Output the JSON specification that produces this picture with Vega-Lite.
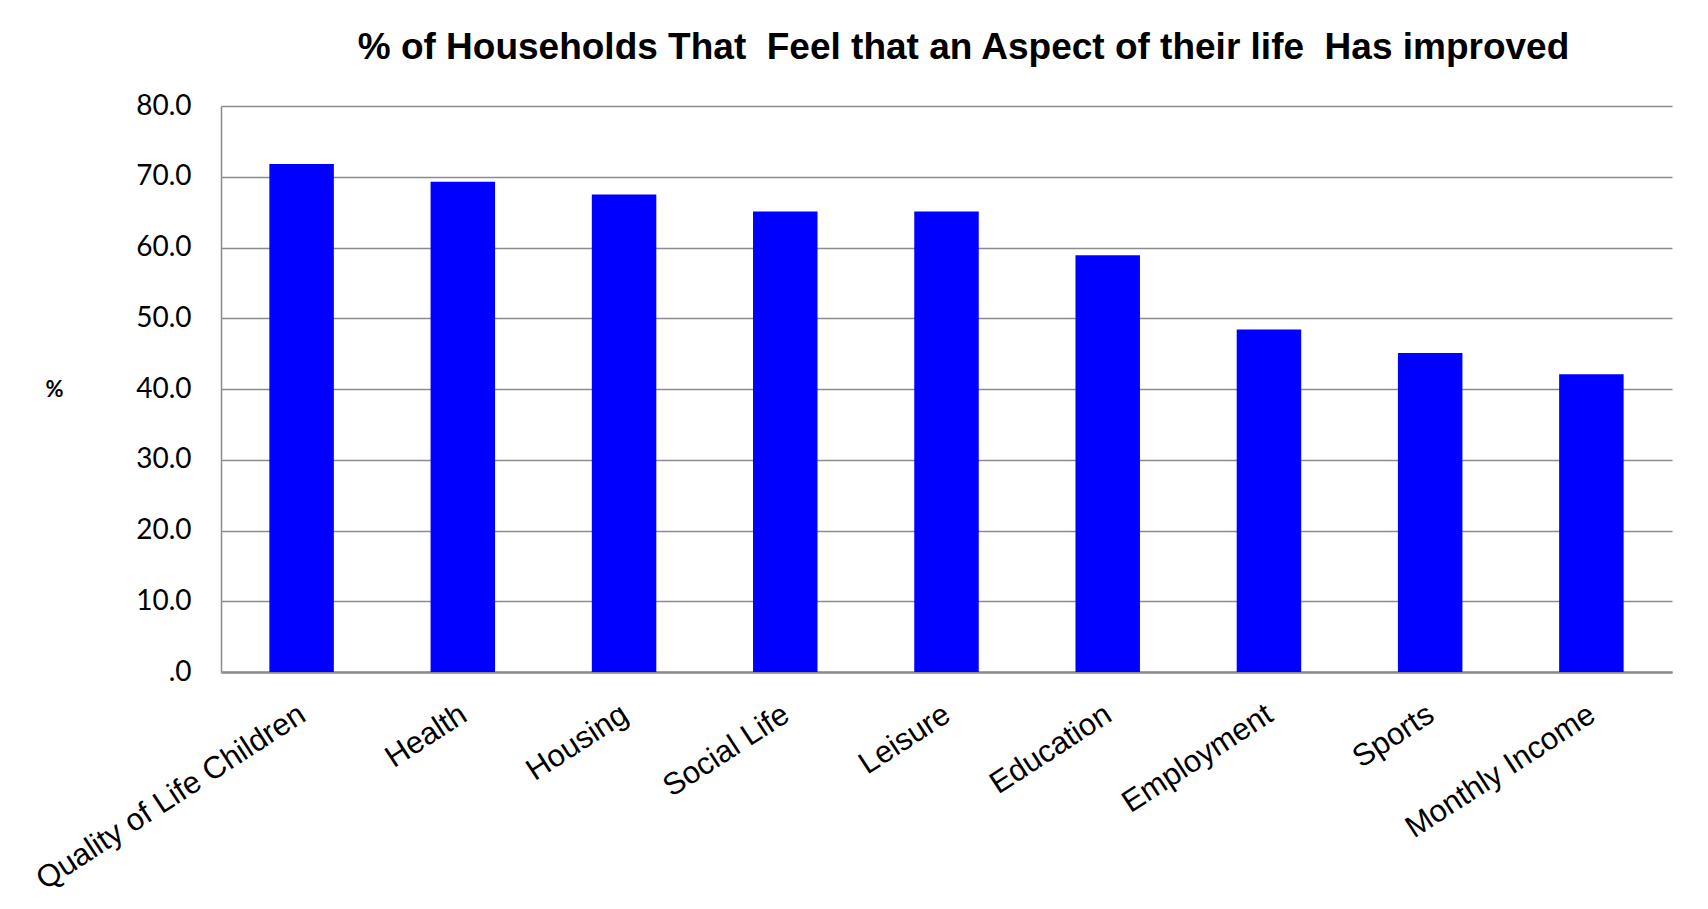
{
  "$schema": "https://vega.github.io/schema/vega-lite/v6.json",
  "width": 1451,
  "height": 566,
  "autosize": {"type": "none"},
  "padding": {"left": 221, "top": 106, "right": 36, "bottom": 237},
  "background": "white",
  "title": {
    "text": "% of Households That \u00a0Feel that an Aspect of their life \u00a0Has improved",
    "font": "Liberation Sans",
    "fontSize": 37,
    "fontWeight": "bold",
    "color": "black",
    "anchor": "middle",
    "dx": 17,
    "offset": 25
  },
  "data": {
    "values": [
      {"aspect": "Quality of Life Children", "pct": 71.8},
      {"aspect": "Health", "pct": 69.3},
      {"aspect": "Housing", "pct": 67.5},
      {"aspect": "Social Life", "pct": 65.1},
      {"aspect": "Leisure", "pct": 65.1},
      {"aspect": "Education", "pct": 58.9},
      {"aspect": "Employment", "pct": 48.4},
      {"aspect": "Sports", "pct": 45.1},
      {"aspect": "Monthly Income", "pct": 42.1}
    ]
  },
  "mark": {"type": "bar", "color": "#0000FF"},
  "encoding": {
    "x": {
      "field": "aspect",
      "type": "nominal",
      "sort": null,
      "scale": {"paddingInner": 0.6, "paddingOuter": 0.3},
      "axis": {
        "title": null,
        "labelAngle": -33,
        "labelAlign": "right",
        "labelBaseline": "top",
        "labelFont": "Liberation Sans",
        "labelFontSize": 31,
        "labelColor": "black",
        "labelPadding": 27,
        "labelOffset": -7,
        "labelLimit": 0,
        "ticks": false,
        "domainColor": "#8c8c8c",
        "domainWidth": 2.5
      }
    },
    "y": {
      "field": "pct",
      "type": "quantitative",
      "scale": {"domain": [0, 80], "nice": false},
      "axis": {
        "values": [0, 10, 20, 30, 40, 50, 60, 70, 80],
        "labelExpr": "datum.value == 0 ? '.0' : format(datum.value, '.1f')",
        "labelFont": "Lato",
        "labelFontSize": 28,
        "labelColor": "black",
        "labelPadding": 30,
        "ticks": false,
        "grid": true,
        "gridColor": "#8c8c8c",
        "gridWidth": 1.5,
        "domainColor": "#8c8c8c",
        "domainWidth": 1.5,
        "title": "%",
        "titleAngle": 0,
        "titleFont": "Lato",
        "titleFontWeight": "bold",
        "titleFontSize": 22,
        "titleColor": "black",
        "titleX": -167,
        "titleY": 283,
        "titleAlign": "center",
        "titleBaseline": "middle"
      }
    }
  },
  "config": {"view": {"stroke": null}}
}
